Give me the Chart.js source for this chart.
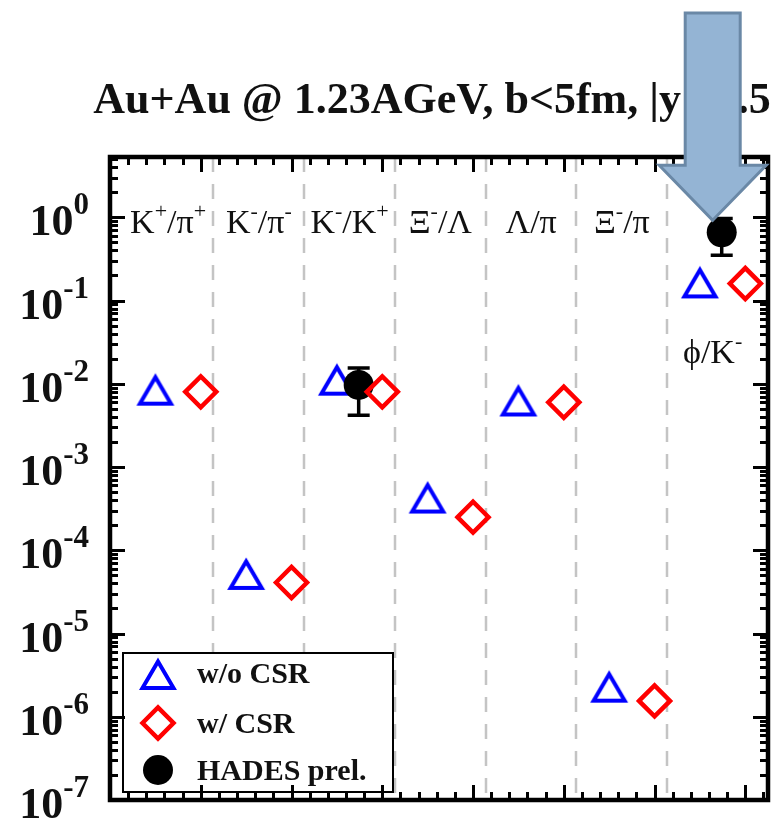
<!DOCTYPE html>
<html>
<head>
<meta charset="utf-8">
<script src="https://cdn.jsdelivr.net/npm/chart.js@4/dist/chart.umd.min.js"></script>
<style>
  html, body { margin: 0; padding: 0; background: #ffffff; }
  #wrap { width: 778px; height: 819px; }
</style>
</head>
<body>
<div id="wrap"><canvas id="c" width="778" height="819"></canvas></div>
<script>
// Particle ratios, Au+Au at 1.23 AGeV (central, mid-rapidity)
const categories = ['K^+/π^+', 'K^-/π^-', 'K^-/K^+', 'Ξ^-/Λ', 'Λ/π', 'Ξ^-/π', 'ϕ/K^-'];
const withoutCSR = [0.0085, 5.2e-5, 0.0112, 4.3e-4, 0.0063, 2.3e-6, 0.165];
const withCSR    = [0.0080, 4.1e-5, 0.0080, 2.5e-4, 0.0060, 1.55e-6, 0.160];
// HADES preliminary measurements (category number, value, error band)
const hadesCategory = [3, 7];
const hadesValue    = [0.0097, 0.66];
const hadesLow      = [0.0042, 0.35];
const hadesHigh     = [0.0155, 0.97];
// decade labels on the y axis (powers of ten)
const yTickExponents = [0, -1, -2, -3, -4, -5, -6, -7];
const titleText = 'Au+Au @ 1.23AGeV, b<5fm, |y|<0.5';
const legendLabels = ['w/o CSR', 'w/ CSR', 'HADES prel.'];

const SERIF = '"Liberation Serif", "Times New Roman", Times, serif';
const BLUE = '#0000ff', RED = '#ff0000';

// open triangle marker, centred on its bounding box
function makeTriangle(color) {
  const c = document.createElement('canvas');
  c.width = 46; c.height = 46;
  const g = c.getContext('2d');
  g.strokeStyle = color; g.lineWidth = 4; g.lineJoin = 'miter';
  const cx = 23, cy = 23;
  g.beginPath();
  g.moveTo(cx, cy - 12.5);
  g.lineTo(cx + 15.5, cy + 14);
  g.lineTo(cx - 15.5, cy + 14);
  g.closePath();
  g.stroke();
  return c;
}
const triangleMarker = makeTriangle(BLUE);

// text with single-character superscripts written as ^x
function drawSupText(ctx, text, x, y, size, sup, raise, bold, align) {
  const parts = [];
  for (let i = 0; i < text.length; i++) {
    if (text[i] === '^' && i + 1 < text.length) { parts.push([text[i + 1], true]); i++; }
    else {
      if (parts.length && !parts[parts.length - 1][1]) parts[parts.length - 1][0] += text[i];
      else parts.push([text[i], false]);
    }
  }
  const w = bold ? 'bold ' : '';
  const fMain = w + size + 'px ' + SERIF, fSup = w + sup + 'px ' + SERIF;
  let total = 0;
  const widths = parts.map(p => { ctx.font = p[1] ? fSup : fMain; const m = ctx.measureText(p[0]).width; total += m; return m; });
  let cx = align === 'center' ? x - total / 2 : (align === 'right' ? x - total : x);
  ctx.textAlign = 'left';
  ctx.textBaseline = 'alphabetic';
  parts.forEach((p, i) => {
    ctx.font = p[1] ? fSup : fMain;
    ctx.fillText(p[0], cx, p[1] ? y - raise : y);
    cx += widths[i];
  });
}

const decorations = {
  id: 'decorations',
  beforeDatasetsDraw(chart) {
    const { ctx, chartArea: a, scales: { x, y } } = chart;
    ctx.save();
    // dashed separators between the ratio groups
    ctx.strokeStyle = '#c4c4c4';
    ctx.lineWidth = 2.5;
    ctx.setLineDash([15, 12]);
    for (let i = 1; i < categories.length; i++) {
      const px = Math.round(x.getPixelForValue(i + 0.14));
      ctx.beginPath(); ctx.moveTo(px, a.top); ctx.lineTo(px, a.bottom); ctx.stroke();
    }
    ctx.setLineDash([]);
    // error bars of the measured points
    ctx.strokeStyle = '#000'; ctx.lineWidth = 3.5;
    hadesCategory.forEach((c, i) => {
      const px = x.getPixelForValue(c - 0.26);
      const yl = y.getPixelForValue(hadesLow[i]), yh = y.getPixelForValue(hadesHigh[i]);
      ctx.beginPath();
      ctx.moveTo(px, yl); ctx.lineTo(px, yh);
      ctx.moveTo(px - 11, yl); ctx.lineTo(px + 11, yl);
      ctx.moveTo(px - 11, yh); ctx.lineTo(px + 11, yh);
      ctx.stroke();
    });
    ctx.restore();
  },
  afterDatasetsDraw(chart) {
    const { ctx, chartArea: a, scales: { x, y } } = chart;
    ctx.save();
    ctx.fillStyle = '#111';
    // ratio names inside the frame
    categories.forEach((name, i) => {
      const px = x.getPixelForValue(i + 1 - 0.36);
      const last = i === categories.length - 1;
      const py = last ? y.getPixelForValue(0.025) + 12 : y.getPixelForValue(1) + 16;
      drawSupText(ctx, name, px, py, 34, 22, 15, false, 'center');
    });

    // legend
    const lx = 123, ly = 653, lw = 270, lh = 139;
    ctx.fillStyle = '#fff';
    ctx.fillRect(lx, ly, lw, lh);
    ctx.strokeStyle = '#000'; ctx.lineWidth = 2;
    ctx.strokeRect(lx, ly, lw, lh);
    ctx.drawImage(triangleMarker, 158 - 23, 674 - 23);
    ctx.strokeStyle = RED; ctx.lineWidth = 4.5; ctx.lineJoin = 'miter';
    ctx.beginPath();
    ctx.moveTo(158 - 15.5, 723); ctx.lineTo(158, 723 - 15.5); ctx.lineTo(158 + 15.5, 723); ctx.lineTo(158, 723 + 15.5);
    ctx.closePath(); ctx.stroke();
    ctx.fillStyle = '#000';
    ctx.beginPath(); ctx.arc(158, 770, 15, 0, Math.PI * 2); ctx.fill();
    ctx.fillStyle = '#111';
    ctx.font = 'bold 30px ' + SERIF;
    ctx.textAlign = 'left'; ctx.textBaseline = 'alphabetic';
    ctx.fillText(legendLabels[0], 197, 683);
    ctx.fillText(legendLabels[1], 197, 733);
    ctx.fillText(legendLabels[2], 197, 780);
    ctx.restore();
  },
  afterDraw(chart) {
    const { ctx, chartArea: a, scales: { x, y } } = chart;
    ctx.save();
    ctx.strokeStyle = '#000';
    // tick marks on all four sides, pointing inwards
    ctx.lineWidth = 3;
    for (let e = -7; e <= 0; e++) {
      for (let k = 1; k <= 9; k++) {
        const v = k * Math.pow(10, e);
        if (v > y.max) break;
        const py = Math.round(y.getPixelForValue(v)) + 0.5;
        const len = k === 1 ? 15 : 8;
        ctx.beginPath();
        ctx.moveTo(a.left, py); ctx.lineTo(a.left + len, py);
        ctx.moveTo(a.right, py); ctx.lineTo(a.right - len, py);
        ctx.stroke();
      }
    }
    for (let t = 0; t <= 36; t++) {
      const v = t / 5;
      const px = Math.round(x.getPixelForValue(v)) + 0.5;
      const len = t % 5 === 0 ? 15 : 8;
      ctx.beginPath();
      ctx.moveTo(px, a.bottom); ctx.lineTo(px, a.bottom - len);
      ctx.moveTo(px, a.top); ctx.lineTo(px, a.top + len);
      ctx.stroke();
    }
    // frame
    ctx.lineWidth = 4.5;
    ctx.strokeRect(a.left, a.top, a.right - a.left, a.bottom - a.top);

    // decade labels
    ctx.fillStyle = '#111';
    yTickExponents.forEach(e => {
      const py = y.getPixelForValue(Math.pow(10, e));
      ctx.font = 'bold 31px ' + SERIF;
      const expText = e === 0 ? '0' : '-' + Math.abs(e);
      const ew = ctx.measureText(expText).width;
      const right = 89;
      ctx.textAlign = 'left'; ctx.textBaseline = 'alphabetic';
      ctx.fillText(expText, right - ew, py - 3);
      ctx.font = 'bold 44px ' + SERIF;
      const bw = ctx.measureText('10').width;
      ctx.fillText('10', right - ew - bw, py + 18);
    });

    // title
    ctx.font = 'bold 44px ' + SERIF;
    ctx.textAlign = 'center'; ctx.textBaseline = 'alphabetic';
    ctx.fillText(titleText, 432, 113);

    // arrow pointing at the measured ϕ/K⁻ ratio
    const last = hadesCategory.length - 1;
    const tipX = x.getPixelForValue(hadesCategory[last] - 0.26) - 9;
    const tipY = y.getPixelForValue(hadesValue[last]) - 12;
    const headY = tipY - 55, topY = 13;
    ctx.beginPath();
    ctx.moveTo(tipX, tipY);
    ctx.lineTo(tipX + 53.5, headY);
    ctx.lineTo(tipX + 27.5, headY);
    ctx.lineTo(tipX + 27.5, topY);
    ctx.lineTo(tipX - 27.5, topY);
    ctx.lineTo(tipX - 27.5, headY);
    ctx.lineTo(tipX - 53.5, headY);
    ctx.closePath();
    ctx.fillStyle = '#94b4d4';
    ctx.fill();
    ctx.strokeStyle = '#6a88a6';
    ctx.lineWidth = 3;
    ctx.lineJoin = 'miter';
    ctx.stroke();
    ctx.restore();
  }
};

new Chart(document.getElementById('c'), {
  type: 'scatter',
  data: {
    datasets: [
      {
        label: legendLabels[1],
        data: withCSR.map((v, i) => ({ x: i + 1, y: v })),
        pointStyle: 'rectRot', pointRadius: 15.5, borderWidth: 4.5,
        borderColor: RED, backgroundColor: 'rgba(0,0,0,0)', order: 1
      },
      {
        label: legendLabels[2],
        data: hadesValue.map((v, i) => ({ x: hadesCategory[i] - 0.26, y: v })),
        pointStyle: 'circle', pointRadius: 15, borderWidth: 0,
        borderColor: '#000', backgroundColor: '#000', order: 2
      },
      {
        label: legendLabels[0],
        data: withoutCSR.map((v, i) => ({ x: i + 0.5, y: v })),
        pointStyle: triangleMarker, pointRadius: 18, order: 3
      }
    ]
  },
  options: {
    responsive: false,
    animation: false,
    devicePixelRatio: 1,
    events: [],
    layout: { autoPadding: false, padding: { left: 110, right: 10, top: 157, bottom: 19 } },
    scales: {
      x: { type: 'linear', min: 0, max: 7.25, display: false },
      y: { type: 'logarithmic', min: 1e-7, max: 5.3, display: false }
    },
    plugins: { legend: { display: false }, tooltip: { enabled: false }, title: { display: false } }
  },
  plugins: [decorations]
});
</script>
</body>
</html>
